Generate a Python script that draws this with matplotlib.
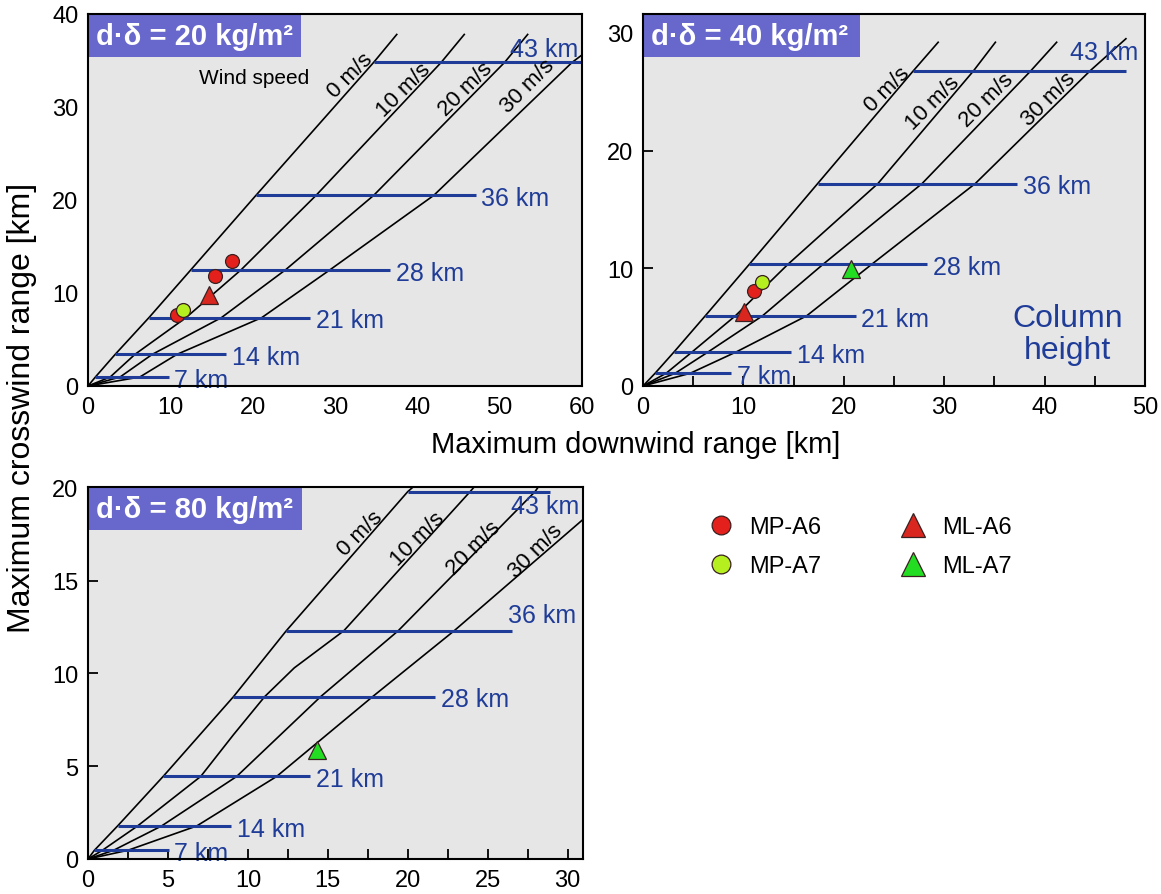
import matplotlib
matplotlib.use("Agg")
import matplotlib.pyplot as plt
from matplotlib.patches import Rectangle
from matplotlib.ticker import MultipleLocator

plt.rcParams['font.family'] = ['Liberation Sans', 'DejaVu Sans']

heights = ['7 km', '14 km', '21 km', '28 km', '36 km', '43 km']
winds = ['0 m/s', '10 m/s', '20 m/s', '30 m/s']

# ---- d.delta = 20 kg/m2 ----
p20_col_y = [0.97, 3.4, 7.35, 12.5, 20.5, 34.8]
p20_col_x0 = [0.9, 3.3, 7.4, 12.5, 20.4, 34.7]
p20_col_x1 = [9.8, 16.8, 27.0, 36.7, 47.1, 60.0]
p20_wind_x = [
    [0, 0.9, 3.3, 7.4, 12.5, 20.4, 34.7, 37.5],
    [0, 2.7, 5.7, 11.9, 18.6, 27.7, 42.9, 45.7],
    [0, 3.9, 7.8, 16.2, 24.0, 34.7, 50.6, 53.4],
    [0, 6.3, 10.8, 21.1, 29.4, 42.0, 58.8, 60.0],
]
p20_wind_y = [
    [0, 0.97, 3.4, 7.35, 12.5, 20.5, 34.8, 37.8],
    [0, 0.97, 3.4, 7.35, 12.5, 20.5, 34.8, 37.8],
    [0, 0.97, 3.4, 7.35, 12.5, 20.5, 34.8, 37.8],
    [0, 0.97, 3.4, 7.35, 12.5, 20.5, 34.8, 35.6],
]
p20_mp_a6 = ([17.5, 15.4, 10.8], [13.45, 11.8, 7.6])
p20_mp_a7 = ([11.5], [8.2])
p20_ml_a6 = ([14.7], [9.8])

# ---- d.delta = 40 kg/m2 ----
p40_col_y = [1.08, 2.9, 5.96, 10.35, 17.2, 26.75]
p40_col_x0 = [1.2, 3.1, 6.2, 10.6, 17.4, 26.9]
p40_col_x1 = [8.8, 14.75, 21.2, 28.3, 37.3, 48.1]
p40_wind_x = [
    [0, 1.2, 3.1, 6.2, 10.6, 17.4, 26.9, 29.4],
    [0, 2.3, 4.9, 9.2, 14.45, 23.4, 32.9, 35.1],
    [0, 3.2, 6.5, 11.9, 17.95, 27.8, 38.6, 41.2],
    [0, 4.7, 9.3, 16.3, 22.8, 33.1, 44.5, 48.1],
]
p40_wind_y = [
    [0, 1.08, 2.9, 5.96, 10.35, 17.2, 26.75, 29.2],
    [0, 1.08, 2.9, 5.96, 10.35, 17.2, 26.75, 29.2],
    [0, 1.08, 2.9, 5.96, 10.35, 17.2, 26.75, 29.2],
    [0, 1.08, 2.9, 5.96, 10.35, 17.2, 26.75, 29.5],
]
p40_mp_a6 = ([11.1], [8.1])
p40_mp_a7 = ([11.9], [8.8])
p40_ml_a6 = ([10.1], [6.25])
p40_ml_a7 = ([20.7], [9.9])

# ---- d.delta = 80 kg/m2 ----
p80_col_y = [0.47, 1.78, 4.45, 8.75, 12.3, 19.8]
p80_col_x0 = [0.4, 1.85, 4.7, 9.1, 12.4, 20.0]
p80_col_x1 = [5.04, 8.95, 13.9, 21.7, 26.5, 28.9]
p80_wind_x = [
    [0, 0.4, 1.85, 4.7, 9.1, 12.4, 20.0, 20.4],
    [0, 0.9, 3.1, 7.05, 9.1, 11.05, 12.9, 16.0, 23.9, 24.2],
    [0, 1.6, 4.6, 9.3, 14.55, 19.4, 27.96, 28.2],
    [0, 2.5, 6.8, 11.8, 17.8, 22.9, 30.96],
]
p80_wind_y = [
    [0, 0.47, 1.78, 4.45, 8.75, 12.3, 19.8, 20.1],
    [0, 0.47, 1.78, 4.45, 6.7, 8.75, 10.3, 12.3, 19.8, 20.1],
    [0, 0.47, 1.78, 4.45, 8.75, 12.3, 19.8, 20.1],
    [0, 0.47, 1.78, 4.45, 8.75, 12.3, 18.3],
]
p80_ml_a7 = ([14.3], [5.9])

KM_BLUE = '#1f3c98'
BOX = '#6868cc'
BG = '#e6e6e6'

W, H = 1161, 895
fig = plt.figure(figsize=(W / 100, H / 100), dpi=100)


def px_axes(l, r, t, b):
    return fig.add_axes([l / W, 1 - b / H, (r - l) / W, (b - t) / H])


ax1 = px_axes(88, 582, 15, 387)
ax2 = px_axes(643, 1145, 15, 387)
ax3 = px_axes(88, 583, 488, 860)


def draw_panel(ax, col_y, x0, x1, wx, wy, label_xy, km_special, title):
    ax.set_facecolor(BG)
    for xs, ys in zip(wx, wy):
        ax.plot(xs, ys, color='black', lw=1.2, zorder=2, clip_on=True)
    for i, y in enumerate(col_y):
        ax.plot([x0[i], x1[i]], [y, y], color=KM_BLUE, lw=2.2, zorder=3,
                solid_capstyle='butt')
        if heights[i] in km_special:
            tx, ty = km_special[heights[i]]
            ax.text(tx, ty, heights[i], color=KM_BLUE, fontsize=18,
                    ha='center', va='center', zorder=4)
        else:
            ax.annotate(heights[i], (x1[i], y), xytext=(4, -2),
                        textcoords='offset points', color=KM_BLUE,
                        fontsize=18, ha='left', va='center', zorder=4)
    for name, (tx, ty) in zip(winds, label_xy):
        ax.text(tx, ty, name, rotation=45, fontsize=16, ha='center',
                va='center', zorder=4)
    ax.add_patch(Rectangle((0, 1 - 0.116), 0.432, 0.116, transform=ax.transAxes,
                           facecolor=BOX, edgecolor='none', zorder=5))
    ax.text(0.016, 1 - 0.058, title, transform=ax.transAxes, color='white',
            fontsize=21, fontweight='bold', ha='left', va='center', zorder=6)
    for s in ax.spines.values():
        s.set_linewidth(1.5)
        s.set_zorder(7)
    ax.tick_params(labelsize=17, direction='in', width=1.3, length=7, pad=7)


def markers(ax, pts, color, marker, size, label):
    ax.plot(pts[0], pts[1], linestyle='none', marker=marker, markersize=size,
            markerfacecolor=color, markeredgecolor='#3a2020',
            markeredgewidth=0.9, zorder=6, label=label)


# panel 1
draw_panel(ax1, p20_col_y, p20_col_x0, p20_col_x1, p20_wind_x, p20_wind_y,
           [(31.8, 33.5), (38.4, 31.9), (45.9, 32.0), (53.4, 32.3)],
           {'43 km': (55.4, 36.2)}, 'd\u00b7\u03b4 = 20 kg/m\u00b2')
ax1.text(20.2, 33.2, 'Wind speed', fontsize=15, ha='center', va='center')
markers(ax1, p20_mp_a6, '#e3201b', 'o', 10, 'MP-A6')
markers(ax1, p20_mp_a7, '#b5ef1f', 'o', 10, 'MP-A7')
markers(ax1, p20_ml_a6, '#d9261e', '^', 13, 'ML-A6')
ax1.set_xlim(0, 60)
ax1.set_ylim(0, 40)
ax1.set_xticks(range(0, 61, 10))
ax1.set_yticks(range(0, 41, 10))
ax1.tick_params(length=0)

# panel 2
draw_panel(ax2, p40_col_y, p40_col_x0, p40_col_x1, p40_wind_x, p40_wind_y,
           [(24.3, 25.2), (28.9, 24.1), (34.2, 24.3), (40.4, 24.4)],
           {'43 km': (45.9, 28.4)}, 'd\u00b7\u03b4 = 40 kg/m\u00b2')
ax2.text(42.3, 4.4, 'Column\nheight', fontsize=23, color=KM_BLUE,
         ha='center', va='center', linespacing=1.1)
markers(ax2, p40_mp_a6, '#e3201b', 'o', 10, 'MP-A6')
markers(ax2, p40_mp_a7, '#b5ef1f', 'o', 10, 'MP-A7')
markers(ax2, p40_ml_a6, '#d9261e', '^', 13, 'ML-A6')
markers(ax2, p40_ml_a7, '#22dd22', '^', 13, 'ML-A7')
ax2.set_xlim(0, 50)
ax2.set_ylim(0, 31.6)
ax2.xaxis.set_major_locator(MultipleLocator(10))
ax2.xaxis.set_minor_locator(MultipleLocator(5))
ax2.yaxis.set_major_locator(MultipleLocator(10))
ax2.tick_params(which='minor', direction='in', width=1.3, length=7)

# panel 3
draw_panel(ax3, p80_col_y, p80_col_x0, p80_col_x1, p80_wind_x, p80_wind_y,
           [(17.0, 17.6), (20.6, 17.3), (24.1, 16.8), (28.0, 16.6)],
           {'43 km': (28.6, 19.0), '36 km': (28.4, 13.15)},
           'd\u00b7\u03b4 = 80 kg/m\u00b2')
markers(ax3, p80_ml_a7, '#22dd22', '^', 13, 'ML-A7')
ax3.set_xlim(0, 30.96)
ax3.set_ylim(0, 20.05)
ax3.xaxis.set_major_locator(MultipleLocator(5))
ax3.xaxis.set_minor_locator(MultipleLocator(2.5))
ax3.yaxis.set_major_locator(MultipleLocator(5))
ax3.tick_params(which='minor', direction='in', width=1.3, length=7)

fig.text(636 / W, 1 - 445 / H, 'Maximum downwind range [km]', fontsize=21,
         ha='center', va='center')
fig.text(22 / W, 1 - 408 / H, 'Maximum crosswind range [km]', fontsize=23,
         ha='center', va='center', rotation=90)

handles, labels = ax2.get_legend_handles_labels()
fig.legend(handles, labels, loc='upper left', bbox_to_anchor=(709 / W, 1 - 517 / H),
           ncol=2, frameon=False, fontsize=17, handlelength=1.0,
           handletextpad=0.7, columnspacing=3.4, labelspacing=0.72,
           borderpad=0, borderaxespad=0, markerscale=1.35)

fig.savefig('out.png', dpi=100)
